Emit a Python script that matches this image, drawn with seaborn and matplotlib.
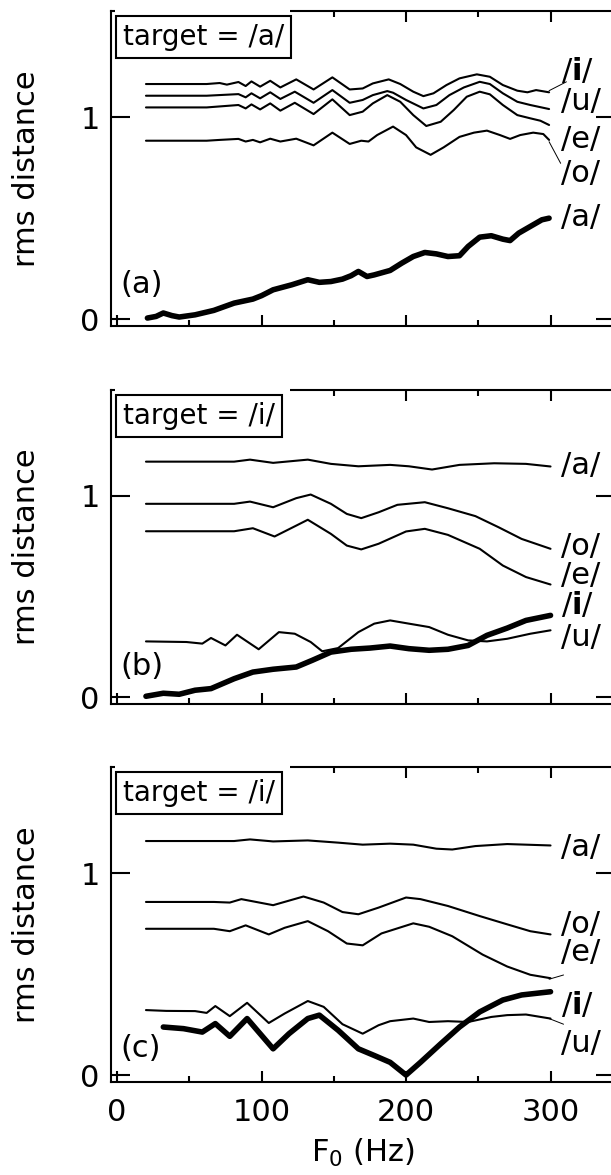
import matplotlib
matplotlib.use("Agg")
import matplotlib.pyplot as plt
from matplotlib.patches import Rectangle
from matplotlib.ticker import NullLocator
import seaborn as sns

# ---------------- data ----------------
# Panel (a): target = /a/
a_i_x = [20, 62, 71, 76, 84, 89, 93, 99, 106, 113, 124, 136, 149, 161, 170, 177, 188, 196, 205, 212, 219, 228, 237, 249, 258, 267, 277, 284, 290, 299]
a_i_y = [1.165, 1.165, 1.170, 1.162, 1.175, 1.155, 1.178, 1.152, 1.181, 1.148, 1.188, 1.138, 1.198, 1.138, 1.143, 1.168, 1.188, 1.165, 1.127, 1.105, 1.119, 1.160, 1.193, 1.213, 1.201, 1.160, 1.132, 1.124, 1.135, 1.124]
a_u_x = [20, 62, 84, 89, 93, 99, 106, 113, 123, 136, 149, 161, 170, 177, 187, 191, 200, 212, 221, 230, 240, 251, 258, 267, 277, 286, 299]
a_u_y = [1.107, 1.107, 1.115, 1.099, 1.119, 1.094, 1.124, 1.091, 1.127, 1.072, 1.135, 1.072, 1.086, 1.110, 1.130, 1.122, 1.086, 1.044, 1.061, 1.110, 1.148, 1.176, 1.165, 1.119, 1.077, 1.061, 1.041]
a_e_x = [20, 62, 84, 89, 93, 99, 106, 113, 123, 136, 149, 161, 170, 177, 187, 196, 205, 214, 224, 233, 242, 251, 258, 267, 277, 286, 293, 299]
a_e_y = [1.049, 1.049, 1.061, 1.044, 1.064, 1.039, 1.069, 1.033, 1.072, 1.016, 1.089, 1.011, 1.028, 1.069, 1.110, 1.077, 1.011, 0.957, 0.978, 1.036, 1.102, 1.127, 1.114, 1.061, 1.011, 0.995, 0.983, 0.962]
a_o_x = [20, 62, 71, 84, 89, 94, 99, 106, 113, 124, 136, 149, 161, 169, 174, 180, 191, 200, 207, 217, 226, 237, 247, 256, 265, 272, 279, 288, 295, 299]
a_o_y = [0.884, 0.884, 0.888, 0.893, 0.880, 0.888, 0.876, 0.894, 0.880, 0.894, 0.861, 0.924, 0.868, 0.884, 0.880, 0.912, 0.954, 0.912, 0.851, 0.814, 0.851, 0.903, 0.924, 0.934, 0.912, 0.893, 0.912, 0.924, 0.917, 0.888]
a_a_x = [21, 27, 32, 38, 43, 54, 67, 81, 94, 100, 108, 121, 132, 140, 148, 156, 162, 167, 173, 178, 189, 197, 205, 213, 221, 229, 237, 243, 251, 259, 267, 272, 278, 286, 294, 299]
a_a_y = [0.005, 0.013, 0.030, 0.017, 0.010, 0.021, 0.043, 0.079, 0.099, 0.116, 0.145, 0.170, 0.195, 0.182, 0.186, 0.198, 0.215, 0.236, 0.211, 0.219, 0.241, 0.277, 0.310, 0.330, 0.323, 0.310, 0.314, 0.360, 0.406, 0.413, 0.396, 0.389, 0.426, 0.459, 0.492, 0.500]

# Panel (b): target = /i/
b_a_x = [20, 81, 92, 108, 132, 148, 167, 189, 202, 218, 237, 261, 283, 300]
b_a_y = [1.168, 1.168, 1.178, 1.162, 1.178, 1.157, 1.145, 1.152, 1.145, 1.129, 1.152, 1.160, 1.157, 1.144]
b_o_x = [20, 81, 92, 108, 124, 134, 148, 159, 169, 181, 194, 213, 229, 248, 264, 280, 300]
b_o_y = [0.959, 0.959, 0.970, 0.942, 0.987, 1.005, 0.959, 0.909, 0.888, 0.917, 0.954, 0.967, 0.937, 0.898, 0.843, 0.785, 0.736]
b_e_x = [20, 81, 94, 109, 124, 132, 148, 159, 169, 181, 200, 213, 229, 251, 267, 283, 300]
b_e_y = [0.823, 0.823, 0.838, 0.797, 0.851, 0.880, 0.810, 0.752, 0.733, 0.761, 0.822, 0.835, 0.805, 0.736, 0.653, 0.596, 0.559]
b_u_x = [20, 48, 59, 65, 75, 83, 98, 112, 123, 134, 142, 153, 167, 178, 189, 202, 216, 229, 243, 256, 270, 286, 300]
b_u_y = [0.277, 0.274, 0.266, 0.294, 0.257, 0.310, 0.238, 0.323, 0.315, 0.274, 0.228, 0.244, 0.323, 0.365, 0.381, 0.365, 0.348, 0.310, 0.282, 0.277, 0.290, 0.315, 0.332]
b_i_x = [20, 32, 43, 54, 65, 81, 94, 108, 124, 135, 148, 162, 175, 189, 202, 216, 229, 243, 256, 270, 283, 300]
b_i_y = [0.005, 0.020, 0.015, 0.035, 0.043, 0.092, 0.125, 0.139, 0.150, 0.183, 0.224, 0.238, 0.244, 0.254, 0.241, 0.233, 0.238, 0.257, 0.307, 0.343, 0.381, 0.406]

# Panel (c): target = /i/
c_a_x = [20, 81, 92, 108, 132, 153, 170, 189, 205, 221, 232, 248, 270, 300]
c_a_y = [1.160, 1.160, 1.168, 1.158, 1.163, 1.152, 1.142, 1.147, 1.142, 1.122, 1.118, 1.135, 1.145, 1.138]
c_o_x = [20, 67, 78, 86, 108, 129, 143, 156, 167, 181, 200, 210, 229, 251, 270, 286, 300]
c_o_y = [0.858, 0.858, 0.855, 0.872, 0.842, 0.885, 0.855, 0.808, 0.797, 0.830, 0.880, 0.872, 0.838, 0.788, 0.747, 0.713, 0.697]
c_e_x = [20, 67, 78, 89, 105, 116, 132, 146, 159, 170, 183, 205, 216, 232, 253, 270, 286, 300]
c_e_y = [0.725, 0.725, 0.713, 0.742, 0.697, 0.730, 0.763, 0.713, 0.652, 0.643, 0.702, 0.752, 0.735, 0.688, 0.597, 0.538, 0.497, 0.480]
c_u_x = [20, 34, 54, 62, 68, 78, 90, 105, 116, 132, 143, 156, 170, 181, 189, 205, 216, 229, 243, 259, 270, 283, 300]
c_u_y = [0.322, 0.318, 0.317, 0.308, 0.342, 0.292, 0.358, 0.258, 0.305, 0.367, 0.338, 0.252, 0.205, 0.247, 0.267, 0.280, 0.263, 0.267, 0.263, 0.288, 0.297, 0.300, 0.280]
c_i_x = [32, 46, 59, 68, 78, 90, 108, 119, 132, 140, 153, 167, 178, 189, 200, 210, 224, 237, 251, 267, 280, 300]
c_i_y = [0.238, 0.230, 0.213, 0.255, 0.192, 0.280, 0.130, 0.205, 0.280, 0.297, 0.222, 0.130, 0.097, 0.063, 0.000, 0.063, 0.155, 0.238, 0.313, 0.372, 0.397, 0.413]

x_ticks = [0, 100, 200, 300]
x_minor_ticks = [50, 150, 250]
y_ticks = [0, 1]

panel_titles = ["target = /a/", "target = /i/", "target = /i/"]
panel_tags = ["(a)", "(b)", "(c)"]
tag_y = [0.17, 0.152, 0.13]

# label text, y position (data units)
labels_a = [("/$\\mathbf{i}$/", 1.228), ("/u/", 1.077), ("/e/", 0.891), ("/o/", 0.723), ("/a/", 0.505)]
labels_b = [("/a/", 1.148), ("/o/", 0.745), ("/e/", 0.604), ("/$\\mathbf{i}$/", 0.457), ("/u/", 0.297)]
labels_c = [("/a/", 1.130), ("/o/", 0.748), ("/e/", 0.605), ("/$\\mathbf{i}$/", 0.347), ("/u/", 0.155)]

# leader lines ((x0, y0), (x1, y1))
leaders_a = [((299, 1.132), (311, 1.176)), ((299, 0.879), (307, 0.772))]
leaders_c = [((299, 0.475), (309, 0.496)), ((299, 0.280), (309, 0.252))]

# ---------------- style ----------------
sns.set_style("ticks")
plt.rcParams["font.family"] = ["DejaVu Sans"]
plt.rcParams["mathtext.fontset"] = "dejavusans"
for key in ["text.color", "axes.labelcolor", "xtick.color", "ytick.color", "axes.edgecolor"]:
    plt.rcParams[key] = "black"

FS = 22
THIN = 1.5
THICK = 4.0

fig = plt.figure(figsize=(6.11, 11.75), dpi=100)
left, width = 0.1812, 0.8253
bottoms = [0.7228, 0.4009, 0.0794]
height = 0.2675

panels = [
    ([(a_i_x, a_i_y, THIN), (a_u_x, a_u_y, THIN), (a_e_x, a_e_y, THIN), (a_o_x, a_o_y, THIN), (a_a_x, a_a_y, THICK)], labels_a, leaders_a),
    ([(b_a_x, b_a_y, THIN), (b_o_x, b_o_y, THIN), (b_e_x, b_e_y, THIN), (b_u_x, b_u_y, THIN), (b_i_x, b_i_y, THICK)], labels_b, []),
    ([(c_a_x, c_a_y, THIN), (c_o_x, c_o_y, THIN), (c_e_x, c_e_y, THIN), (c_u_x, c_u_y, THIN), (c_i_x, c_i_y, THICK)], labels_c, leaders_c),
]

for k, (series, labels, leaders) in enumerate(panels):
    ax = fig.add_axes([left, bottoms[k], width, height])
    for xs, ys, lw in series:
        sns.lineplot(x=xs, y=ys, ax=ax, color="black", linewidth=lw, estimator=None, sort=False)
    ax.set_xlim(-4.4, 344.6)
    ax.set_ylim(-0.033, 1.525)
    ax.set_xticks(x_ticks)
    ax.set_xticks(x_minor_ticks, minor=True)
    ax.set_yticks(y_ticks)
    ax.yaxis.set_minor_locator(NullLocator())
    ax.tick_params(axis="x", which="major", direction="in", length=8, width=1.5, color="black",
                   labelcolor="black", top=True, bottom=True, labelsize=FS, pad=12,
                   labelbottom=(k == 2))
    ax.tick_params(axis="x", which="minor", direction="in", length=4.3, width=1.5, color="black",
                   top=True, bottom=True)
    ax.tick_params(axis="y", which="major", direction="in", length=14, width=1.5, color="black",
                   labelcolor="black", left=True, right=True, labelsize=FS, pad=8)
    for sp in ax.spines.values():
        sp.set_linewidth(1.5)
        sp.set_color("black")
    ax.set_ylabel("rms distance", fontsize=FS, color="black")
    ax.yaxis.set_label_coords(-0.138, 0.5)
    if k == 2:
        ax.set_xlabel(r"F$_0$ (Hz)", fontsize=FS, color="black")
        ax.xaxis.set_label_coords(0.5, -0.175)
    else:
        ax.set_xlabel("")

    # title box with white cover over the top spine
    ax.add_patch(Rectangle((0.0085, 0.975), 0.347, 0.04, transform=ax.transAxes,
                           facecolor="white", edgecolor="none", zorder=5, clip_on=False))
    ax.text(0.0244, 0.962, panel_titles[k], transform=ax.transAxes, ha="left", va="top",
            fontsize=20, zorder=6, color="black",
            bbox=dict(boxstyle="square,pad=0.25", facecolor="white", edgecolor="black", linewidth=1.5))
    ax.text(2, tag_y[k], panel_tags[k], ha="left", va="center", fontsize=FS, color="black")

    for txt, yv in labels:
        ax.text(307.5, yv, txt, ha="left", va="center", fontsize=FS, color="black", clip_on=False)
    for (x0, y0), (x1, y1) in leaders:
        ax.plot([x0, x1], [y0, y1], color="black", linewidth=0.7, clip_on=False)

fig.savefig("out.png", dpi=100)
